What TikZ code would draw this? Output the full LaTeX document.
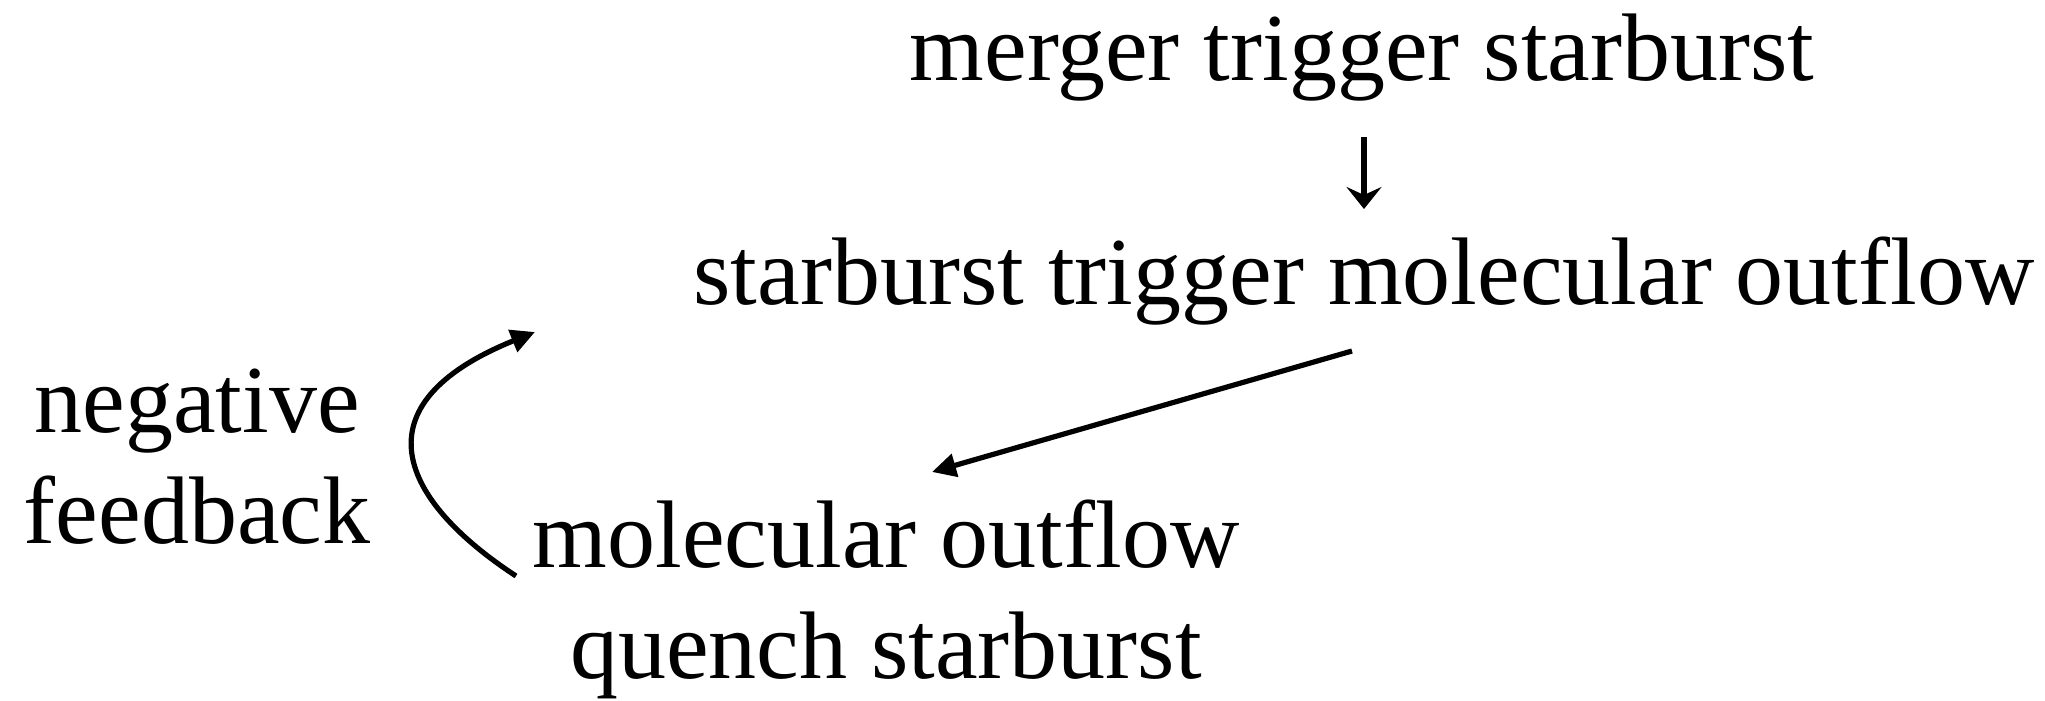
\documentclass[tikz,border=0pt]{standalone}
\usepackage{fontspec}
\setmainfont{Liberation Serif}
\usetikzlibrary{arrows.meta}

\begin{document}
\begin{tikzpicture}[x=0.5pt,y=-0.5pt,
  txt/.style={inner sep=0pt, anchor=base, align=center, font=\fontsize{48}{55.5}\selectfont},
  arr/.style={line width=2.6pt, -{Triangle[length=12pt,width=11.5pt]}}]
\useasboundingbox (0,0) rectangle (2045,701);

\node (M) at (1362,81) [txt] {merger trigger starburst};
\node (S) at (1364,304) [txt] {starburst trigger molecular outflow};
\node (Q) at (886,678) [txt] {molecular outflow\\quench starburst};
\node (F) at (197,543) [txt] {negative\\feedback};

\coordinate (c1) at (516,576);
\coordinate (c2) at (535,332);

\draw [line width=2.8pt, -{Stealth[length=11pt,width=17.5pt,inset=4pt]}] ([shift={(2,56)}]M.base) -- ([shift={(0,-95)}]S.base);
\draw [arr] ([shift={(-12,47)}]S.base) -- ([shift={(46,-206)}]Q.base);
\draw [arr] (c1) .. controls (400,500) and (355,405) .. (c2);
\end{tikzpicture}
\end{document}
